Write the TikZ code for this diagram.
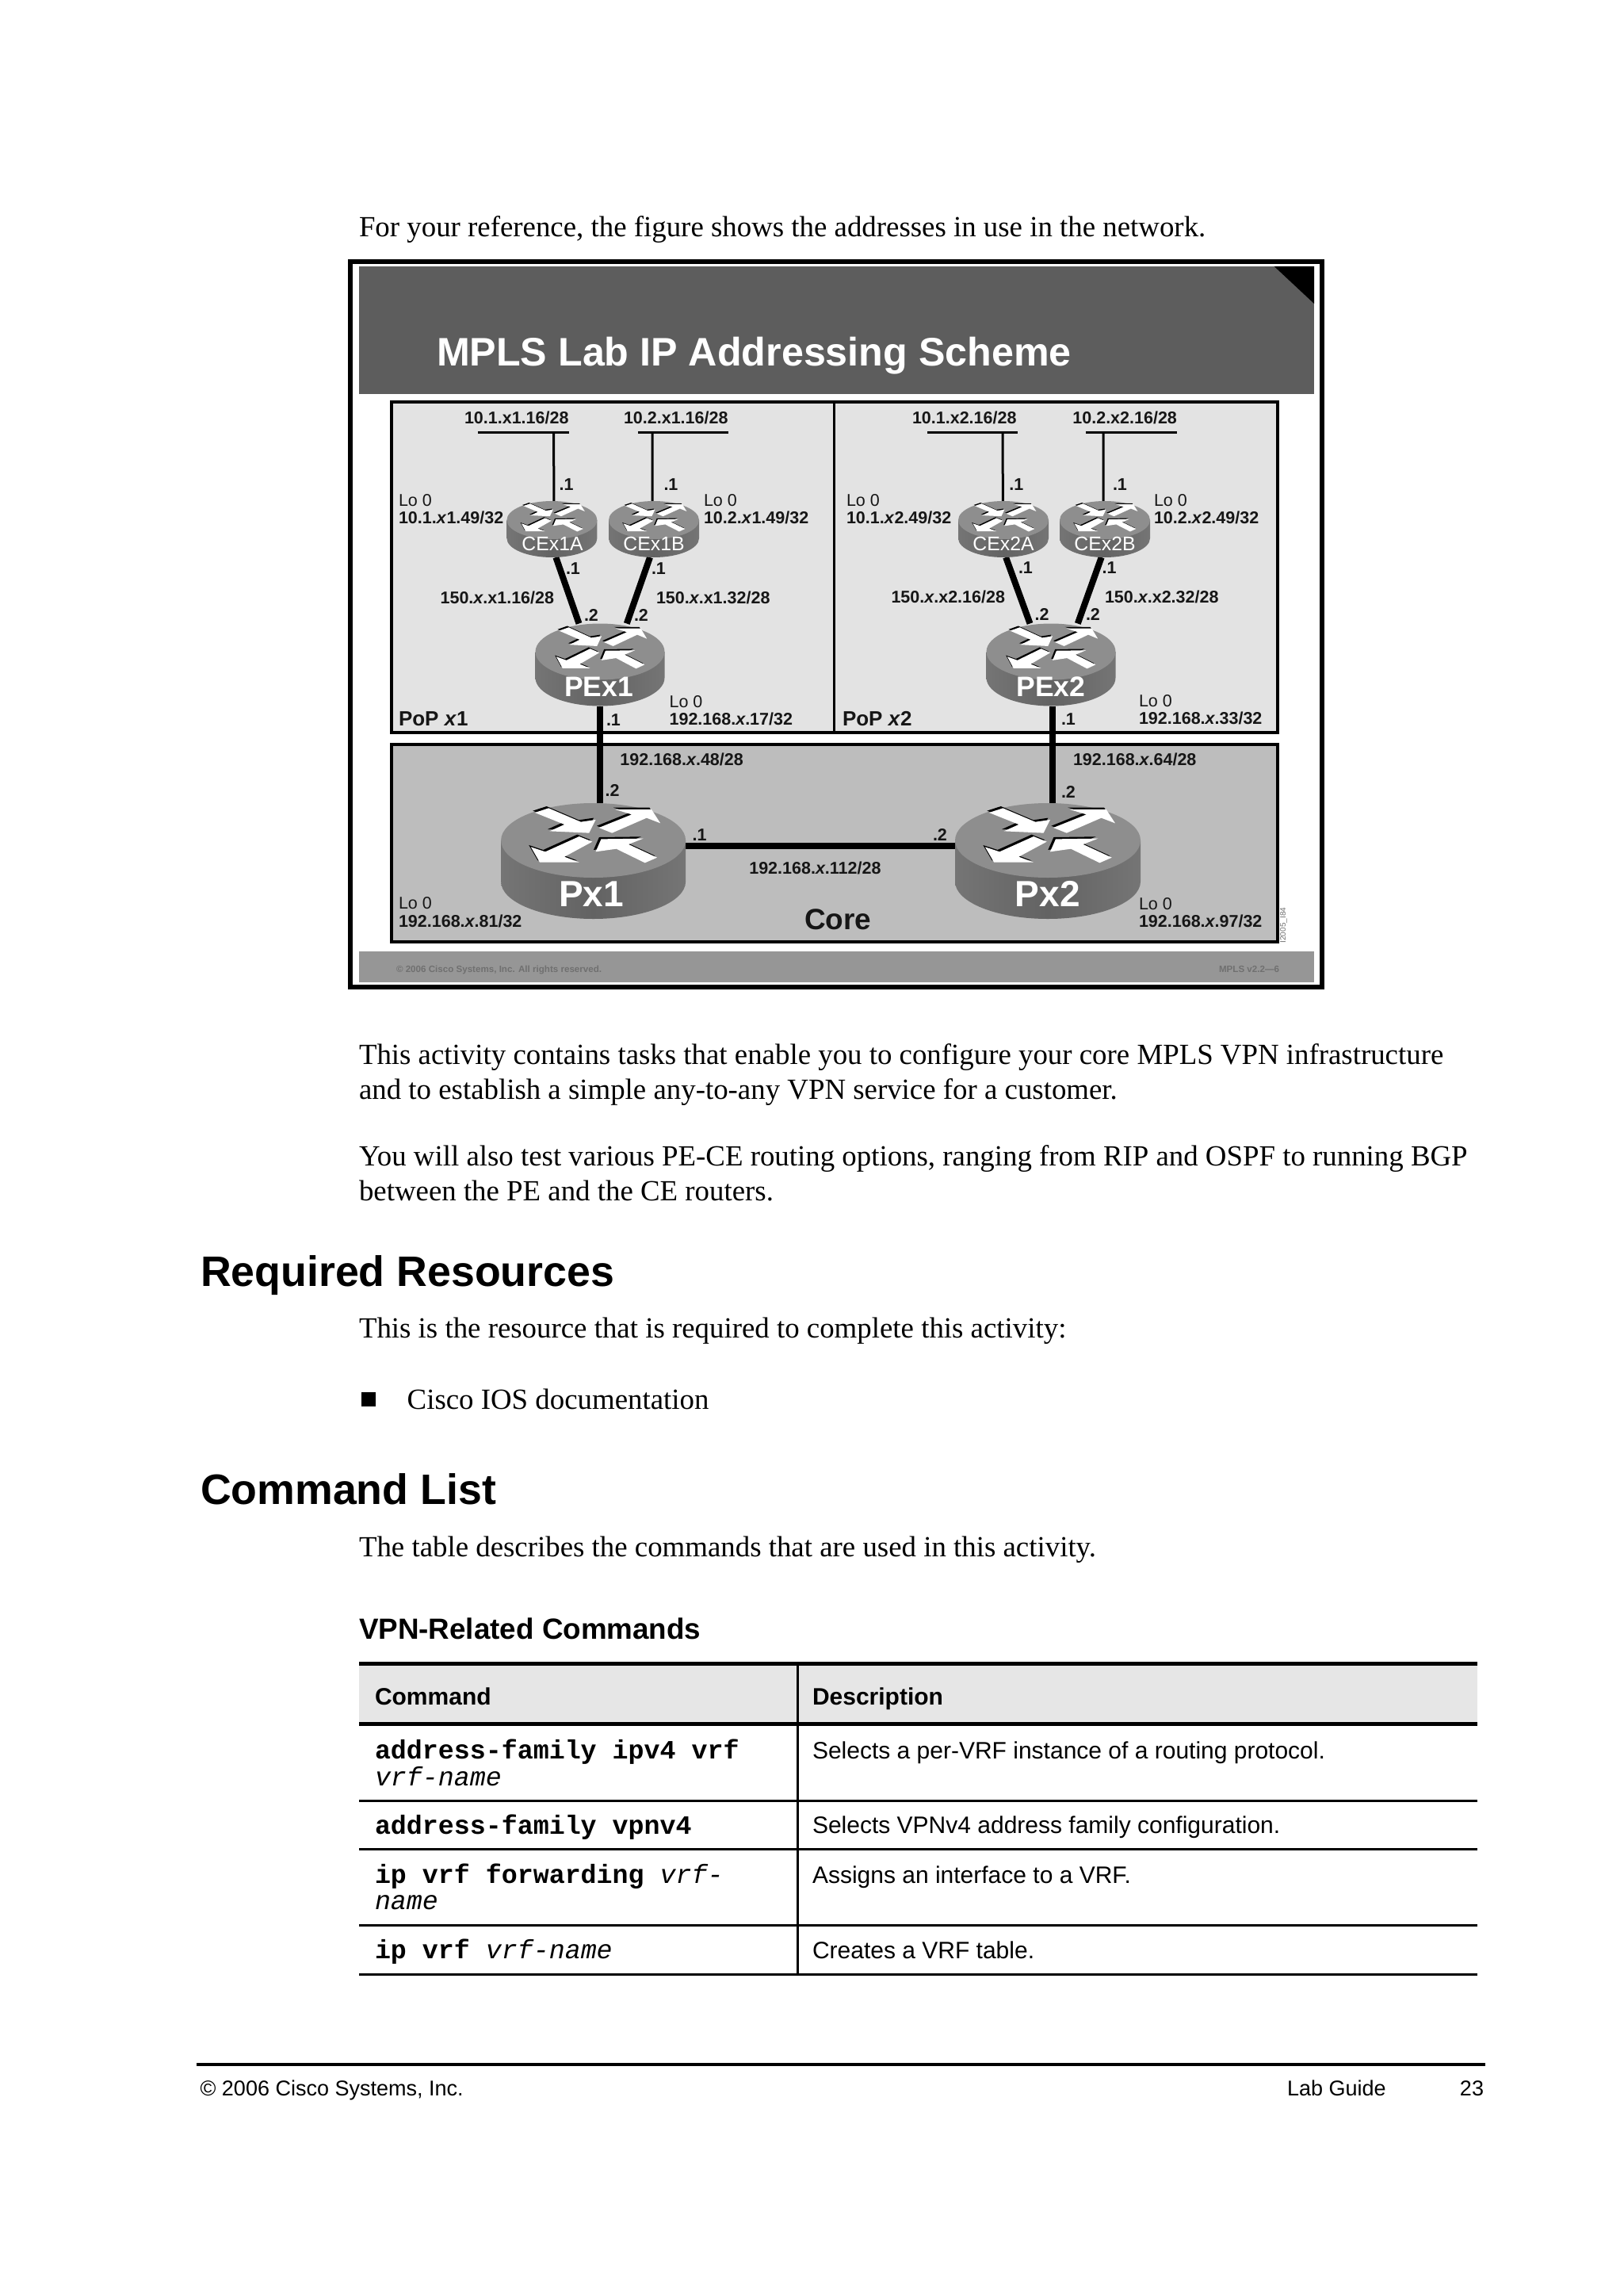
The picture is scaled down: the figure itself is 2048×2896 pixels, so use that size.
\documentclass[tikz,border=0pt]{standalone}
\usepackage{fontspec}
\setmainfont{Liberation Serif}
\newfontfamily\arl{Liberation Sans}
\newfontfamily\cou{Liberation Mono}
\newcommand{\pxfont}[1]{\pgfmathsetmacro\tmpfs{#1*0.3}\fontsize{\tmpfs pt}{\tmpfs pt}\selectfont}
\definecolor{barD}{HTML}{5D5D5D}
\definecolor{barF}{HTML}{969696}
\definecolor{popF}{HTML}{E3E3E3}
\definecolor{coreF}{HTML}{BDBDBD}
\definecolor{topF}{HTML}{8E8E8E}
\definecolor{sideM}{HTML}{636363}
\definecolor{sideE}{HTML}{757575}
\definecolor{labK}{HTML}{161616}
\definecolor{footT}{HTML}{707070}
\definecolor{hdrF}{HTML}{E6E6E6}
\tikzset{
  tx/.style={anchor=base west,inner sep=0pt,outer sep=0pt},
  txr/.style={anchor=base east,inner sep=0pt,outer sep=0pt},
  txc/.style={anchor=base,inner sep=0pt,outer sep=0pt},
  body/.style={tx,font=\pxfont{36.85}},
  head/.style={tx,font=\arl\bfseries\pxfont{53.7}},
  lab/.style={tx,text=labK,font=\arl\bfseries\pxfont{21.5}},
  lo/.style={tx,text=labK,font=\arl\pxfont{21.5}},
  rnm/.style={txc,text=white,font=\arl\bfseries\pxfont{#1}},
  rbox/.style={inner sep=0pt,outer sep=0pt,rectangle},
  thinlink/.style={draw=black,line width=0.9pt},
  thicklink/.style={draw=black,line width=2.4pt},
  panel/.style={draw=black,line width=1.2pt},
  cmdb/.style={tx,font=\cou\bfseries\pxfont{33.3}},
  cmdi/.style={tx,font=\cou\itshape\pxfont{33.3}},
  desc/.style={tx,font=\arl\pxfont{30}},
  thd/.style={tx,font=\arl\bfseries\pxfont{30}},
  rule/.style={draw=black,line width=0.9pt},
  rulethick/.style={draw=black,line width=1.5pt}
}
\newcommand{\rnode}[6]{% name cx cy rx ry h
  \pgfmathsetmacro\rw{2*#4*0.3}\pgfmathsetmacro\rhh{(2*#5+#6)*0.3}
  \node[rbox,minimum width=\rw pt,minimum height=\rhh pt] (#1) at (#2,{#3+#6/2}) {};
}
\newcommand{\rtr}[5]{% cx cy rx ry h
  \pgfmathsetmacro\rxp{#3*0.3}\pgfmathsetmacro\ryp{#4*0.3}\pgfmathsetmacro\hh{#5/#4}
  \begin{scope}[shift={(#1,#2)},x=\rxp pt,y=-\ryp pt]
    \shade[left color=sideE,right color=sideE,middle color=sideM]
      (-1,0) -- (-1,\hh) .. controls (-1,\hh+0.5523) and (-0.5523,\hh+1) .. (0,\hh+1)
      .. controls (0.5523,\hh+1) and (1,\hh+0.5523) .. (1,\hh) -- (1,0) -- cycle;
    \fill[topF] (0,0) ellipse [x radius=1,y radius=1];
    \begin{scope}[shift={(-0.022,-0.05)}]\rarrows{black}\end{scope}
    \rarrows{white}
  \end{scope}
}
\newcommand{\rarrows}[1]{%
  \fill[#1] (-0.633,-0.745) -- (-0.484,-0.865) -- (-0.135,-0.496) -- (0.025,-0.553) -- (-0.046,-0.199) -- (-0.473,-0.248) -- (-0.313,-0.426) -- cycle;
  \fill[#1] (0.060,-0.340) -- (0.416,-0.695) -- (0.238,-0.830) -- (0.630,-0.830) -- (0.726,-0.461) -- (0.577,-0.603) -- (0.203,-0.199) -- cycle;
  \fill[#1] (-0.153,-0.106) -- (-0.011,0.035) -- (-0.313,0.44) -- (-0.153,0.589) -- (-0.58,0.589) -- (-0.676,0.177) -- (-0.52,0.305) -- cycle;
  \fill[#1] (0.025,0.305) -- (0.085,-0.035) -- (0.541,-0.05) -- (0.381,0.106) -- (0.69,0.461) -- (0.559,0.603) -- (0.249,0.227) -- cycle;
}
\begin{document}
\begin{tikzpicture}[x=0.3pt,y=-0.3pt]
\useasboundingbox (0,0) rectangle (2048,2896);
\fill[white] (0,0) rectangle (2048,2896);

% page text above
\node[body] (t1) at (453,299) {For your reference, the figure shows the addresses in use in the network.};

% figure frame
\draw[black,line width=1.8pt,fill=white] (442,330) rectangle (1668,1244.5);
\fill[barD] (453,336) rectangle (1658,497);
\fill[black] (1607.7,336) -- (1658,336) -- (1658,383) -- cycle;
\node[tx,text=white,font=\arl\bfseries\pxfont{50.2}] (title) at (551,461.5) {MPLS Lab IP Addressing Scheme};
\fill[barF] (453,1200) rectangle (1658,1239);
\node[tx,text=footT,font=\arl\bfseries\pxfont{11.6}] (fl) at (500,1226) {© 2006 Cisco Systems, Inc. All rights reserved.};
\node[tx,text=footT,font=\arl\bfseries\pxfont{11.6}] (fr) at (1538,1226) {MPLS v2.2—6};
\node[anchor=base west,rotate=90,inner sep=0pt,text=footT,font=\arl\pxfont{10}] (fid) at (1622,1190) {I2005\_I84};

% panels
\draw[panel,fill=popF] (494,506.6) rectangle (1612,924);
\draw[black,line width=0.9pt] (1052.7,506.6) -- (1052.7,924);
\draw[panel,fill=coreF] (494,939) rectangle (1612,1188);

% router nodes
\rnode{CEx1A}{696.4}{656}{57}{24}{23}
\rnode{CEx1B}{825}{656}{57}{24}{23}
\rnode{CEx2A}{1266}{656}{57}{24}{23}
\rnode{CEx2B}{1394}{656}{57}{24}{23}
\rnode{PEx1}{757}{822}{81.5}{35.5}{33}
\rnode{PEx2}{1326}{822}{81.5}{35.5}{33}
\rnode{Px1}{748.6}{1060}{116.5}{47}{52}
\rnode{Px2}{1322}{1060}{117}{47}{52}

% LAN bars
\coordinate (n1l) at (603,545.4); \coordinate (n1r) at (718,545.4); \coordinate (n1) at (698.6,545.4);
\coordinate (n2l) at (805,545.4); \coordinate (n2r) at (919,545.4); \coordinate (n2) at (823,545.4);
\coordinate (n3l) at (1170,545.4); \coordinate (n3r) at (1284,545.4); \coordinate (n3) at (1265,545.4);
\coordinate (n4l) at (1370,545.4); \coordinate (n4r) at (1485,545.4); \coordinate (n4) at (1392,545.4);
\coordinate (coreY) at (1000,1066.7);
\draw[thinlink] (n1l) -- (n1r);
\draw[thinlink] (n2l) -- (n2r);
\draw[thinlink] (n3l) -- (n3r);
\draw[thinlink] (n4l) -- (n4r);
\draw[thinlink] (n1) -- (CEx1A.86.5);
\draw[thinlink] (n2) -- (CEx1B.93);
\draw[thinlink] (n3) -- (CEx2A.91.6);
\draw[thinlink] (n4) -- (CEx2B.93);

% links
\draw[thicklink] (CEx1A.278.3) -- (PEx1.117);
\draw[thicklink] (CEx1B.262) -- (PEx1.57);
\draw[thicklink] (CEx2A.275.8) -- (PEx2.117);
\draw[thicklink] (CEx2B.263.6) -- (PEx2.57);
\draw[thicklink] (PEx1.south) -- (PEx1.south |- Px1.north);
\draw[thicklink] (PEx2.272.8) -- (PEx2.272.8 |- Px2.north);
\draw[thicklink] (Px1.east |- coreY) -- (Px2.west |- coreY);

% routers
\rtr{696.4}{656}{57}{24}{23}
\rtr{825}{656}{57}{24}{23}
\rtr{1266}{656}{57}{24}{23}
\rtr{1394}{656}{57}{24}{23}
\rtr{757}{822}{81.5}{35.5}{33}
\rtr{1326}{822}{81.5}{35.5}{33}
\rtr{748.6}{1060}{116.5}{47}{52}
\rtr{1322}{1060}{117}{47}{52}

% router names
\node[txc,text=white,font=\arl\pxfont{24.8}] (l1) at (697,694) {CEx1A};
\node[txc,text=white,font=\arl\pxfont{24.8}] (l2) at (825,694) {CEx1B};
\node[txc,text=white,font=\arl\pxfont{24.8}] (l3) at (1266,694) {CEx2A};
\node[txc,text=white,font=\arl\pxfont{24.8}] (l4) at (1394,694) {CEx2B};
\node[rnm=35.5] (l5) at (755.5,878) {PEx1};
\node[rnm=35.5] (l6) at (1326,878) {PEx2};
\node[rnm=46] (l7) at (746,1143.5) {Px1};
\node[rnm=46] (l8) at (1321.7,1143.5) {Px2};

% PoP x1 labels
\node[lab] (a1) at (586,535) {10.1.x1.16/28};
\node[lab] (a2) at (787,535) {10.2.x1.16/28};
\node[lab] (a3) at (705.7,618.5) {.1};
\node[lab] (a4) at (837.5,618.5) {.1};
\node[lo] (a5) at (503,639) {Lo 0};
\node[lab] (a6) at (503,660) {10.1.\textit{x}1.49/32};
\node[lo] (a7) at (888,639) {Lo 0};
\node[lab] (a8) at (888,660) {10.2.\textit{x}1.49/32};
\node[lab] (a9) at (714,724) {.1};
\node[lab] (a10) at (822,724) {.1};
\node[lab] (a11) at (555.6,761) {150.\textit{x}.x1.16/28};
\node[lab] (a12) at (828,761) {150.\textit{x}.x1.32/28};
\node[lab] (a13) at (737,783.4) {.2};
\node[lab] (a14) at (800,783.4) {.2};
\node[lab] (a15) at (765,915) {.1};
\node[lo] (a16) at (844.6,892) {Lo 0};
\node[lab] (a17) at (844.6,914) {192.168.\textit{x}.17/32};
\node[tx,text=labK,font=\arl\bfseries\pxfont{26}] (a18) at (503,915) {PoP \textit{x}1};

% PoP x2 labels
\node[lab] (b1) at (1151,535) {10.1.x2.16/28};
\node[lab] (b2) at (1353.4,535) {10.2.x2.16/28};
\node[lab] (b3) at (1273.4,618) {.1};
\node[lab] (b4) at (1404,618) {.1};
\node[lo] (b5) at (1068,638.5) {Lo 0};
\node[lab] (b6) at (1068,660) {10.1.\textit{x}2.49/32};
\node[lo] (b7) at (1456,638.5) {Lo 0};
\node[lab] (b8) at (1456,660) {10.2.\textit{x}2.49/32};
\node[lab] (b9) at (1285,723) {.1};
\node[lab] (b10) at (1390.7,723) {.1};
\node[lab] (b11) at (1124.5,760.7) {150.\textit{x}.x2.16/28};
\node[lab] (b12) at (1394,760.7) {150.\textit{x}.x2.32/28};
\node[lab] (b13) at (1305.7,782.7) {.2};
\node[lab] (b14) at (1370,782.7) {.2};
\node[lab] (b15) at (1339,914) {.1};
\node[lo] (b16) at (1437,891.7) {Lo 0};
\node[lab] (b17) at (1437,913.5) {192.168.\textit{x}.33/32};
\node[tx,text=labK,font=\arl\bfseries\pxfont{26}] (b18) at (1063,915) {PoP \textit{x}2};

% Core labels
\node[lab] (c1) at (782.4,965.7) {192.168.\textit{x}.48/28};
\node[lab] (c2) at (763.7,1004) {.2};
\node[lab] (c3) at (873.6,1060.7) {.1};
\node[lab] (c4) at (945.3,1102.7) {192.168.\textit{x}.112/28};
\node[lo] (c5) at (503,1146.7) {Lo 0};
\node[lab] (c6) at (503,1169) {192.168.\textit{x}.81/32};
\node[tx,text=labK,font=\arl\bfseries\pxfont{37}] (c7) at (1015,1172.5) {Core};
\node[lab] (c8) at (1354,965.7) {192.168.\textit{x}.64/28};
\node[lab] (c9) at (1339,1006) {.2};
\node[lab] (c10) at (1177,1060.7) {.2};
\node[lo] (c11) at (1437,1147) {Lo 0};
\node[lab] (c12) at (1437,1169) {192.168.\textit{x}.97/32};

% body text
\node[body] (p1) at (453,1342) {This activity contains tasks that enable you to configure your core MPLS VPN infrastructure};
\node[body] (p2) at (453,1386) {and to establish a simple any-to-any VPN service for a customer.};
\node[body] (p3) at (453,1470) {You will also test various PE-CE routing options, ranging from RIP and OSPF to running BGP};
\node[body] (p4) at (453,1514) {between the PE and the CE routers.};
\node[head] (h1) at (253,1622.5) {Required Resources};
\node[body] (p5) at (453,1687.5) {This is the resource that is required to complete this activity:};
\fill[black] (455.6,1755.7) rectangle (473.5,1774);
\node[body] (p6) at (513.7,1777) {Cisco IOS documentation};
\node[head] (h2) at (253,1897) {Command List};
\node[body] (p7) at (453,1963) {The table describes the commands that are used in this activity.};
\node[tx,font=\arl\bfseries\pxfont{36.8}] (h3) at (453,2067.5) {VPN-Related Commands};

% table
\fill[hdrF] (453,2100) rectangle (1864,2172);
\draw[rule] (1006,2099) -- (1006,2490);
\draw[rulethick] (453,2098.7) -- (1864,2098.7);
\draw[rulethick] (453,2174) -- (1864,2174);
\draw[rule] (453,2271) -- (1864,2271);
\draw[rule] (453,2332.7) -- (1864,2332.7);
\draw[rule] (453,2428) -- (1864,2428);
\draw[rule] (453,2490) -- (1864,2490);
\node[thd] (th1) at (473,2150) {Command};
\node[thd] (th2) at (1025,2150) {Description};
\node[cmdb] (r1) at (473,2218) {address-family ipv4 vrf};
\node[cmdi] (r1b) at (473,2252) {vrf-name};
\node[desc] (d1) at (1025,2218) {Selects a per-VRF instance of a routing protocol.};
\node[cmdb] (r2) at (473,2313) {address-family vpnv4};
\node[desc] (d2) at (1025,2312) {Selects VPNv4 address family configuration.};
\node[tx] (r3) at (473,2375) {\cou\pxfont{33.3}\textbf{ip vrf forwarding} \textit{vrf-}};
\node[cmdi] (r3b) at (473,2408.7) {name};
\node[desc] (d3) at (1025,2375) {Assigns an interface to a VRF.};
\node[tx] (r4) at (473,2470) {\cou\pxfont{33.3}\textbf{ip vrf} \textit{vrf-name}};
\node[desc] (d4) at (1025,2470) {Creates a VRF table.};

% page footer
\draw[black,line width=1.2pt] (248.4,2604) -- (1873.6,2604);
\node[tx,font=\arl\pxfont{27}] (f1) at (252.6,2643) {© 2006 Cisco Systems, Inc.};
\node[tx,font=\arl\pxfont{27}] (f2) at (1624,2643) {Lab Guide};
\node[txr,font=\arl\pxfont{27}] (f3) at (1872,2643) {23};
\end{tikzpicture}
\end{document}
